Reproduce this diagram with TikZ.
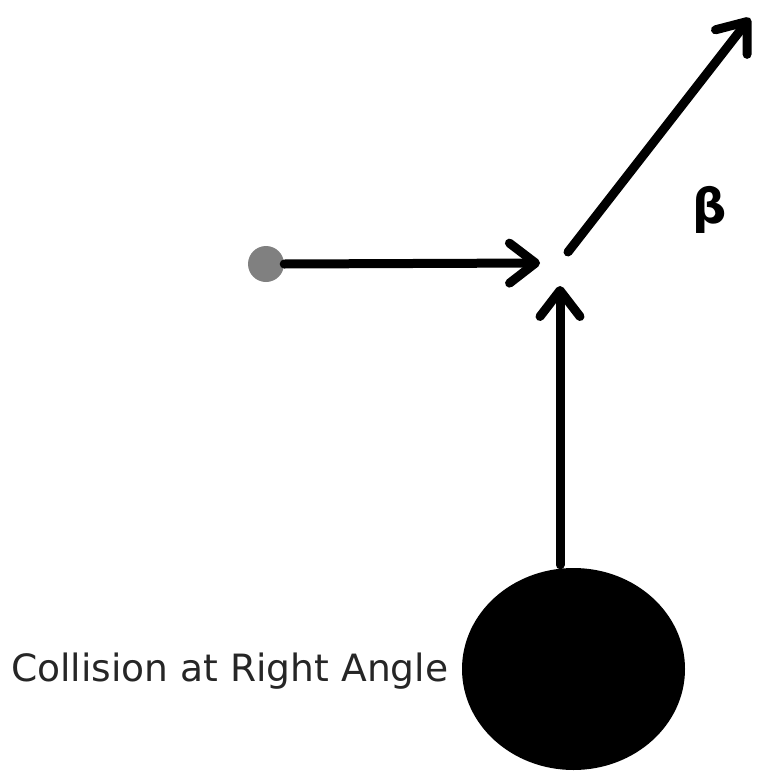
\documentclass[tikz,border=0pt]{standalone}
\usepackage{fontspec}
\setmainfont{DejaVu Sans}
\usetikzlibrary{arrows.meta,shapes.geometric}
\begin{document}
\begin{tikzpicture}[x=1pt,y=-1pt,
  vec/.style={line width=9pt, line cap=round, -{Straight Barb[length=26pt,width=40pt,line cap=round,line join=round]}},
  lbl/.style={inner sep=0pt, font=\fontsize{37.6}{44}\selectfont, text=black!85}]
\useasboundingbox (0,0) rectangle (756,771);
\fill[white] (0,0) rectangle (756,771);
\node[circle, fill=gray, minimum size=36pt, inner sep=0pt] (dot) at (266,264) {};
\coordinate (hTip) at (540,263);
\coordinate (vTip) at (560,286);
\coordinate (dStart) at (568,252);
\coordinate (dTip) at (750,18);
\node[ellipse, fill=black, minimum width=223pt, minimum height=202pt, inner sep=0pt] (ball) at (573.5,669) {};
\draw[vec] (ball.north -| vTip) ++(0,-3) -- (vTip);
\draw[vec] (dot.east) -- (hTip);
\draw[vec] (dStart) -- (dTip);
\node[lbl, font=\fontsize{48}{52}\selectfont\bfseries, text=black] (beta) at (710,210) {β};
\node[lbl, anchor=west] (cap) at (11,671) {Collision at Right Angle};
\end{tikzpicture}
\end{document}
